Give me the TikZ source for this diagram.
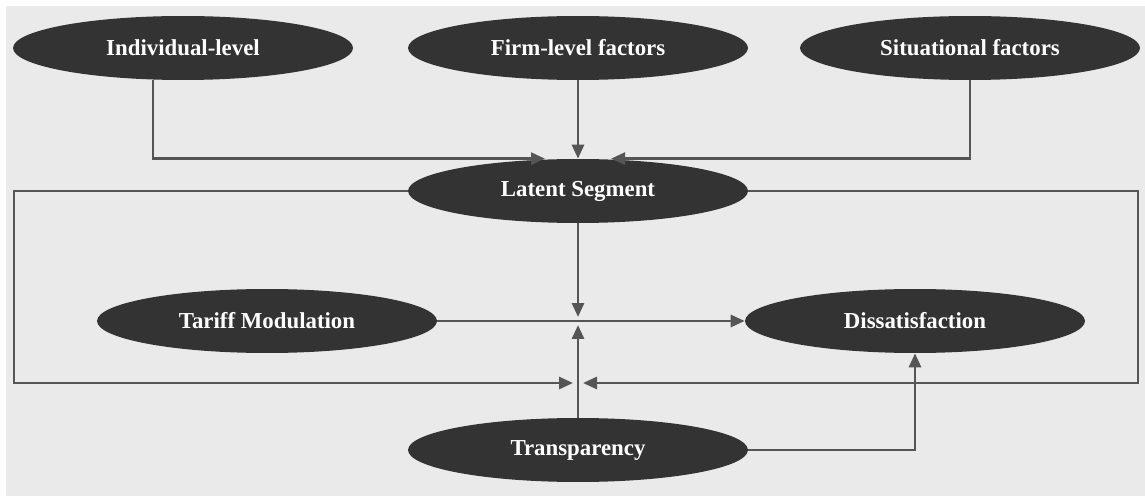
\documentclass[tikz,border=0pt]{standalone}
\usepackage{fontspec}
\setmainfont{Liberation Serif}
\usetikzlibrary{shapes.geometric,arrows.meta}
\definecolor{bggray}{HTML}{EAEAEA}
\definecolor{ovalfill}{HTML}{333333}
\definecolor{linegray}{HTML}{555555}
\tikzset{
  oval/.style={ellipse, fill=ovalfill, text=white, inner sep=0pt,
    minimum width=6.8cm, minimum height=1.28cm,
    font=\bfseries\fontsize{13}{15}\selectfont},
  plainline/.style={draw=linegray, line width=1.6pt},
  link/.style={plainline, -{Triangle[length=0.28cm,width=0.24cm]}}
}
\begin{document}
\begin{tikzpicture}[x=0.02cm, y=-0.02cm]
  \useasboundingbox (0,0) rectangle (1145,496);
  \fill[bggray] (6,6) rectangle (1145,496);
  % factores arriba
  \node[oval] (ind) at (183,48) {Individual-level};
  \node[oval] (firm) at (578,48) {Firm-level factors};
  \node[oval] (sit) at (970,48) {Situational factors};
  \node[oval] (ls) at (578,191) {Latent Segment};
  \node[oval] (tm) at (267,321) {Tariff Modulation};
  \node[oval] (ds) at (915,321) {Dissatisfaction};
  \node[oval] (tr) at (578,450) {Transparency};
  \coordinate (mid) at (ls.south |- tm.east);
  \coordinate (low) at (578,383);
  \coordinate (boxl) at (14,383);
  \coordinate (boxr) at (1138,383);
  % entradas al segmento
  \draw[link] ([xshift=-0.6cm]ind.south) |- ([xshift=-0.66cm]ls.north);
  \draw[link] (firm) -- (ls);
  \draw[link] (sit.south) |- ([xshift=0.66cm]ls.north);
  % marco
  \draw[link, shorten >=0.1cm] (ls.west) -| (boxl) -- (low);
  \draw[link, shorten >=0.1cm] (ls.east) -| (boxr) -- (low);
  % centro
  \draw[link, shorten >=0.08cm] (ls.south) -- (mid);
  \draw[link, shorten >=0.08cm] (tr.north) -- (mid);
  \draw[link] (tm.east) -- (ds.west);
  \draw[link] (tr.east) -| (ds.south);
\end{tikzpicture}
\end{document}
